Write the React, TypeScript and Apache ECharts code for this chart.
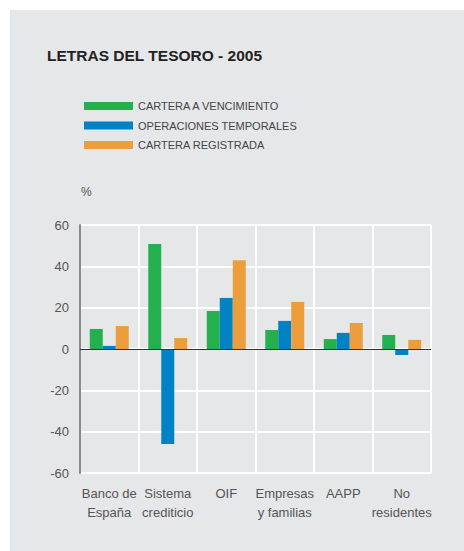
import React, { useEffect, useRef } from "react";
import * as echarts from "echarts";

const categories = ["Banco de\nEspaña", "Sistema\ncrediticio", "OIF", "Empresas\ny familias", "AAPP", "No\nresidentes"];
const carteraVencimiento = [9.7, 50.8, 18.4, 9.2, 4.8, 6.8];
const operacionesTemporales = [1.5, -46, 24.7, 13.6, 7.8, -2.9];
const carteraRegistrada = [11.1, 5.3, 43, 22.8, 12.6, 4.4];
const seriesNames = ["CARTERA A VENCIMIENTO", "OPERACIONES TEMPORALES", "CARTERA REGISTRADA"];
const colors = ["#24b04f", "#0082c4", "#ec9e3d"];

const FONT = "'Liberation Sans', Arial, Helvetica, sans-serif";

export default function App() {
  const ref = useRef<HTMLDivElement>(null);
  useEffect(() => {
    const chart = echarts.init(ref.current!, null, { renderer: "svg" });
    const values = [carteraVencimiento, operacionesTemporales, carteraRegistrada];
    chart.setOption({
      animation: false,
      textStyle: { fontFamily: FONT },
      graphic: [
        { type: "rect", z: -10, shape: { x: 10, y: 10, width: 454, height: 541 }, style: { fill: "#e6e7e9" } },
        {
          type: "text",
          left: 47,
          top: 47,
          style: { text: "LETRAS DEL TESORO - 2005", font: `bold 15.5px ${FONT}`, fill: "#222" },
        },
        {
          type: "text",
          left: 81,
          top: 186,
          style: { text: "%", font: `12px ${FONT}`, fill: "#555" },
        },
      ],
      legend: {
        orient: "vertical",
        left: 79,
        top: 95,
        itemWidth: 49,
        itemHeight: 8,
        itemGap: 7.5,
        icon: "rect",
        data: seriesNames,
        textStyle: { fontSize: 11, color: "#444", lineHeight: 12, fontFamily: FONT },
      },
      grid: { left: 80, right: 33, top: 225, bottom: 78, containLabel: false },
      xAxis: {
        type: "category",
        data: categories,
        axisLine: { show: false },
        axisTick: { show: false },
        axisLabel: { interval: 0, margin: 11, fontSize: 13, lineHeight: 19, color: "#555", fontFamily: FONT },
        splitLine: { show: true, lineStyle: { color: "#ffffff", width: 2 } },
      },
      yAxis: {
        type: "value",
        min: -60,
        max: 60,
        interval: 20,
        axisLine: { show: true, lineStyle: { color: "#8a8a8a", width: 2 } },
        axisTick: { show: false },
        axisLabel: { margin: 11, fontSize: 13, color: "#555", fontFamily: FONT },
        splitLine: { show: true, lineStyle: { color: "#ffffff", width: 2 } },
      },
      series: seriesNames.map((name, i) => ({
        name,
        type: "bar",
        data: values[i],
        barWidth: 13,
        barGap: "0%",
        itemStyle: { color: colors[i] },
        ...(i === 0
          ? {
              markLine: {
                silent: true,
                symbol: "none",
                label: { show: false },
                lineStyle: { color: "#333", width: 1, type: "solid" },
                data: [{ yAxis: 0 }],
                z: 10,
              },
            }
          : {}),
      })),
    });
    return () => chart.dispose();
  }, []);
  return (
    <div
      ref={ref}
      style={{ position: "absolute", left: 0, top: 0, width: 464, height: 551, background: "#ffffff" }}
    />
  );
}
